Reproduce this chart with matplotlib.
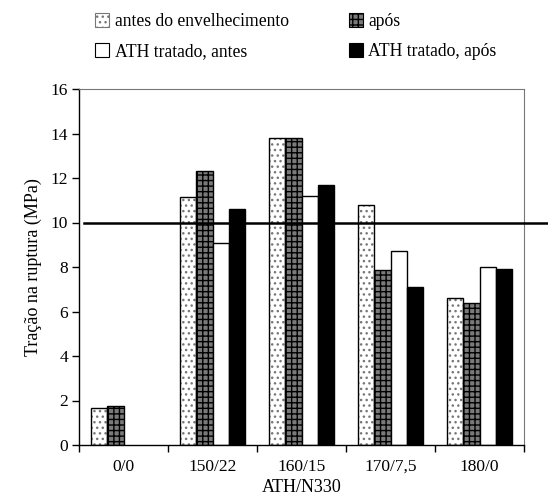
import numpy as np
import matplotlib
matplotlib.use("Agg")
import matplotlib.pyplot as plt
from matplotlib.patches import Patch

plt.rcParams['font.family'] = ['Liberation Serif', 'DejaVu Serif']
plt.rcParams['hatch.linewidth'] = 1.0

# dados
grupos = ['0/0', '150/22', '160/15', '170/7,5', '180/0']
antes = [1.65, 11.15, 13.8, 10.8, 6.6]
apos = [1.75, 12.3, 13.8, 7.85, 6.4]
ath_antes = [np.nan, 9.1, 11.2, 8.7, 8.0]
ath_apos = [np.nan, 10.6, 11.7, 7.1, 7.9]
rotulos = ['antes do envelhecimento', 'após', 'ATH tratado, antes', 'ATH tratado, após']

fig = plt.figure(figsize=(5.48, 5.00), dpi=100)
ax = fig.add_axes([0.1442, 0.11, 0.812, 0.712])

x = np.arange(len(grupos))
w = 0.183
offs = np.array([-1.5, -0.5, 0.5, 1.5]) * w

# antes: branco com pontos
ax.bar(x + offs[0], antes, w, color='white', edgecolor='#777777', hatch='...', linewidth=0)
ax.bar(x + offs[0], antes, w, fill=False, edgecolor='black', linewidth=1.0)
# após: grade escura
ax.bar(x + offs[1], apos, w, color='#7a7a7a', edgecolor='black', hatch='+++', linewidth=0)
ax.bar(x + offs[1], apos, w, fill=False, edgecolor='black', linewidth=1.0)
# ATH tratado
ax.bar(x + offs[2], ath_antes, w, color='white', edgecolor='black', linewidth=1.0)
ax.bar(x + offs[3], ath_apos, w, color='black', edgecolor='black', linewidth=1.0)

ax.axhline(10, xmin=0.011, xmax=1.055, color='black', linewidth=1.8, clip_on=False, zorder=5)

ax.set_xlim(-0.5, len(grupos) - 0.5)
ax.set_ylim(0, 16)
ax.set_yticks(np.arange(0, 17, 2))
ax.set_xticks(x)
ax.set_xticklabels(grupos)
ax.set_xticks(np.arange(-0.5, len(grupos), 1), minor=True)
ax.tick_params(axis='x', which='major', length=0, labelsize=12.5, pad=10)
ax.tick_params(axis='x', which='minor', length=5, direction='out', width=1)
ax.tick_params(axis='y', length=5, direction='out', width=1, labelsize=12.5, pad=3)

for s in ['top', 'right']:
    ax.spines[s].set_color('#777777')
    ax.spines[s].set_linewidth(0.8)
for s in ['left', 'bottom']:
    ax.spines[s].set_color('black')
    ax.spines[s].set_linewidth(1.0)

ax.set_xlabel('ATH/N330', fontsize=13, labelpad=3)
ax.set_ylabel('Tração na ruptura (MPa)', fontsize=13, labelpad=6)

handles = [
    Patch(facecolor='white', edgecolor='#777777', hatch='...', linewidth=0.8),
    Patch(facecolor='white', edgecolor='black', linewidth=0.8),
    Patch(facecolor='#7a7a7a', edgecolor='black', hatch='+++', linewidth=0.8),
    Patch(facecolor='black', edgecolor='black', linewidth=0.8),
]
labs = [rotulos[0], rotulos[2], rotulos[1], rotulos[3]]
fig.legend(handles, labs, loc='upper left', bbox_to_anchor=(0.145, 1.005), ncol=2,
           frameon=False, fontsize=12.7, handlelength=0.8, handleheight=0.8,
           handletextpad=0.3, columnspacing=3.4, labelspacing=0.72)

fig.savefig('out.png', dpi=100)
